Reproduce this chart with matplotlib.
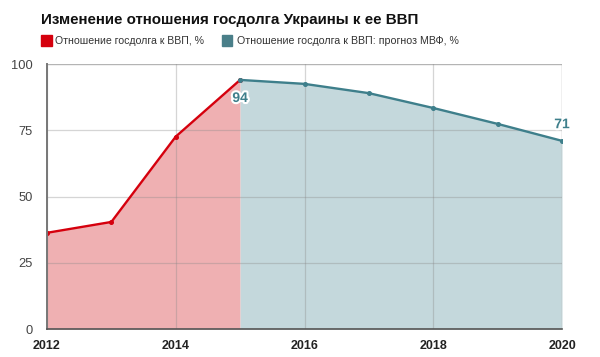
import matplotlib
matplotlib.use("Agg")
import matplotlib.pyplot as plt
import matplotlib.patheffects as pe
from matplotlib.patches import Rectangle

plt.rcParams['font.family'] = ['Liberation Sans', 'DejaVu Sans']

title = "Изменение отношения госдолга Украины к ее ВВП"
series_actual_name = "Отношение госдолга к ВВП, %"
series_forecast_name = "Отношение госдолга к ВВП: прогноз МВФ, %"
years_actual = [2012, 2013, 2014, 2015]
values_actual = [36.3, 40.4, 72.6, 94]
years_forecast = [2015, 2016, 2017, 2018, 2019, 2020]
values_forecast = [94, 92.5, 89.0, 83.4, 77.4, 71]
x_ticks = [2012, 2014, 2016, 2018, 2020]
y_ticks = [0, 25, 50, 75, 100]

red = '#d5000d'
red_fill = '#efb0b2'
teal = '#3e7f8b'
teal_fill = '#c4d8dc'

fig = plt.figure(figsize=(6, 3.57), dpi=100)
ax = fig.add_axes([0.0783, 0.0784, 0.8584, 0.7423])

ax.fill_between(years_actual, values_actual, 0, color=red_fill, lw=0, zorder=1)
ax.fill_between(years_forecast, values_forecast, 0, color=teal_fill, lw=0, zorder=1)
ax.plot(years_actual, values_actual, color=red, lw=1.7, marker='o', ms=2.6, zorder=4)
ax.plot(years_forecast, values_forecast, color=teal, lw=1.7, marker='o', ms=2.6, zorder=5)

ax.set_xlim(2012, 2020)
ax.set_ylim(0, 100)
ax.set_xticks(x_ticks)
ax.set_yticks(y_ticks)
ax.grid(True, color='#888888', alpha=0.35, lw=0.9, zorder=2)
ax.set_axisbelow(False)
for s in ['top', 'right']:
    ax.spines[s].set_visible(False)
ax.spines['left'].set_color('#777777')
ax.spines['left'].set_linewidth(1.4)
ax.spines['bottom'].set_color('#555555')
ax.spines['bottom'].set_linewidth(1.2)
ax.spines['left'].set_zorder(6)
ax.spines['bottom'].set_zorder(6)
ax.tick_params(axis='both', length=0)
ax.tick_params(axis='y', labelsize=9.3, labelcolor='#444444', pad=10)
ax.tick_params(axis='x', labelsize=9, pad=8)
for lab in ax.get_xticklabels():
    lab.set_fontweight('bold')
    lab.set_color('#222222')
ax.axhline(100, color='#cccccc', lw=1, zorder=2)
ax.axvline(2020, color='#cccccc', lw=1, zorder=2)

ax.annotate(str(round(values_forecast[0])), (years_forecast[0], values_forecast[0]),
            xytext=(0, -13), textcoords='offset points', ha='center', va='center',
            fontsize=10, fontweight='bold', color=teal, zorder=7,
            path_effects=[pe.withStroke(linewidth=3, foreground='white')])
ax.annotate(str(round(values_forecast[-1])), (years_forecast[-1], values_forecast[-1]),
            xytext=(0, 12), textcoords='offset points', ha='center', va='center',
            fontsize=10, fontweight='bold', color=teal, zorder=7,
            path_effects=[pe.withStroke(linewidth=3, foreground='white')])

t_title = fig.text(41/600, 1-20/357, title, fontsize=13, fontweight='bold', color='#111111',
                   ha='left', va='center')
fig.patches.append(Rectangle((41/600, 1-46/357), 11/600, 11/357, color=red,
                             transform=fig.transFigure, figure=fig))
t_l1 = fig.text(55/600, 1-40.5/357, series_actual_name, fontsize=9, color='#333333',
                ha='left', va='center')
fig.patches.append(Rectangle((222/600, 1-46/357), 10/600, 11/357, color='#4a7f89',
                             transform=fig.transFigure, figure=fig))
t_l2 = fig.text(237/600, 1-40.5/357, series_forecast_name, fontsize=9, color='#333333',
                ha='left', va='center')

# fit text widths to the reference layout
renderer = fig.canvas.get_renderer()
for t, target in [(t_title, 377), (t_l1, 149), (t_l2, 220)]:
    w = t.get_window_extent(renderer).width
    t.set_fontsize(t.get_fontsize() * target / w)

fig.savefig('out.png', dpi=100)
